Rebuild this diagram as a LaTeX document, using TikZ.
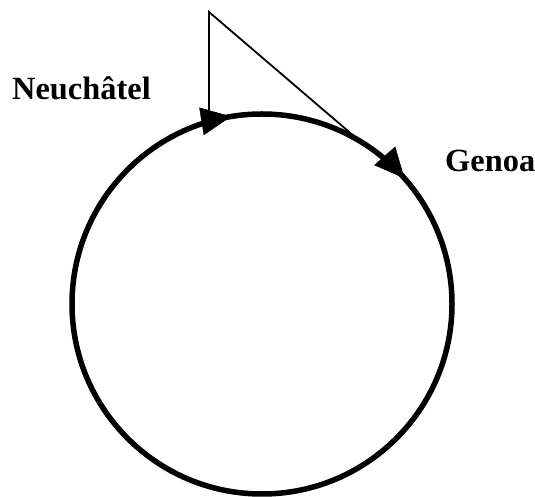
\documentclass[tikz,border=0pt]{standalone}
\usepackage{fontspec}
\setmainfont{Liberation Serif}
\usepackage{tikz}
\usetikzlibrary{positioning,arrows.meta,calc,decorations.markings}

\begin{document}
\begin{tikzpicture}[x=1pt, y=1pt,
  ring/.style={line width=5.5pt, postaction={decorate}, decoration={markings,
      mark=at position 0.224 with {\arrow{Triangle[length=30pt,width=28pt,line width=0.5pt]}},
      mark=at position 0.385 with {\arrow{Triangle[length=30pt,width=28pt,line width=0.5pt]}}}},
  link/.style={line width=1.8pt},
  place/.style={font=\fontsize{32.4}{38}\selectfont\bfseries, anchor=base west, inner sep=0pt}
]
\useasboundingbox (0,0) rectangle (535,497);
\coordinate (c) at (262,193);
% the loop, run clockwise
\draw[ring] (c) ++(180:190) arc[start angle=180, end angle=-180, radius=190];
\coordinate (apex) at (209,485);
\coordinate (neu) at ($(c)+(106.2:190)$);
\coordinate (gen) at ($(c)+(59:190)$);
\draw[link] (neu) -- (apex) -- (gen);
\node[place] (neuchatel) at (12,397) {Neuchâtel};
\node[place] (genoa) at (445,325) {Genoa};
\end{tikzpicture}
\end{document}
